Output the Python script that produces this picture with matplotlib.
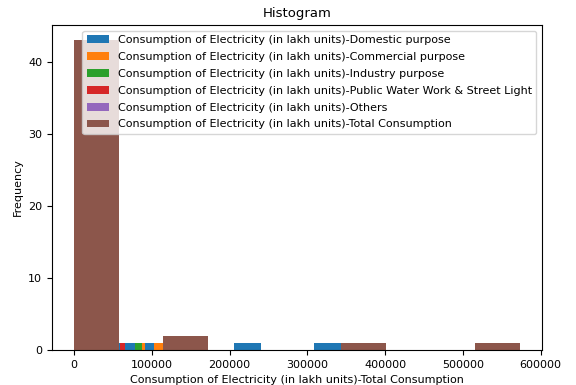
import numpy as np
import matplotlib
matplotlib.use("Agg")
import matplotlib.pyplot as plt

prefix = "Consumption of Electricity (in lakh units)-"
series_names = [
    "Domestic purpose",
    "Commercial purpose",
    "Industry purpose",
    "Public Water Work & Street Light",
    "Others",
    "Total Consumption",
]
colors = ["#1f77b4", "#ff7f0e", "#2ca02c", "#d62728", "#9467bd", "#8c564b"]

# value range (min, max) of each column; each column gets its own 10 bins
domestic_range = (0, 343000)
commercial_range = (0, 114600)
industry_range = (0, 87100)
public_water_range = (0, 65600)
others_range = (0, 30000)
total_range = (0, 573000)

# frequency counts in each of the 10 bins
domestic_counts = [43, 1, 1, 0, 0, 0, 1, 0, 0, 1]
commercial_counts = [42, 2, 1, 0, 0, 0, 0, 1, 0, 1]
industry_counts = [43, 2, 1, 0, 0, 0, 0, 0, 0, 1]
public_water_counts = [43, 2, 0, 0, 0, 0, 0, 1, 0, 1]
others_counts = [40, 4, 1, 0, 0, 1, 0, 0, 0, 1]
total_counts = [43, 0, 2, 0, 0, 0, 1, 0, 0, 1]

ranges = [domestic_range, commercial_range, industry_range,
          public_water_range, others_range, total_range]
counts = [domestic_counts, commercial_counts, industry_counts,
          public_water_counts, others_counts, total_counts]

fig = plt.figure(figsize=(5.76, 3.85), dpi=100)
ax = fig.add_axes([0.090, 0.091, 0.851, 0.844])

fs = 8
for name, rng, cnt, col in zip(series_names, ranges, counts, colors):
    edges = np.linspace(rng[0], rng[1], len(cnt) + 1)
    ax.hist(edges[:-1], bins=edges, weights=cnt, color=col,
            label=prefix + name)
    ax.set_xlabel(prefix + name, fontsize=fs)

ax.set_ylabel("Frequency", fontsize=fs)
ax.set_title("Histogram", fontsize=9.5)
ax.set_xticks([0, 100000, 200000, 300000, 400000, 500000, 600000])
ax.set_yticks([0, 10, 20, 30, 40])
ax.tick_params(labelsize=fs)
ax.legend(loc="upper right", fontsize=fs, handlelength=2.0,
          borderpad=0.4, labelspacing=0.62)

fig.savefig("out.png", dpi=100)
